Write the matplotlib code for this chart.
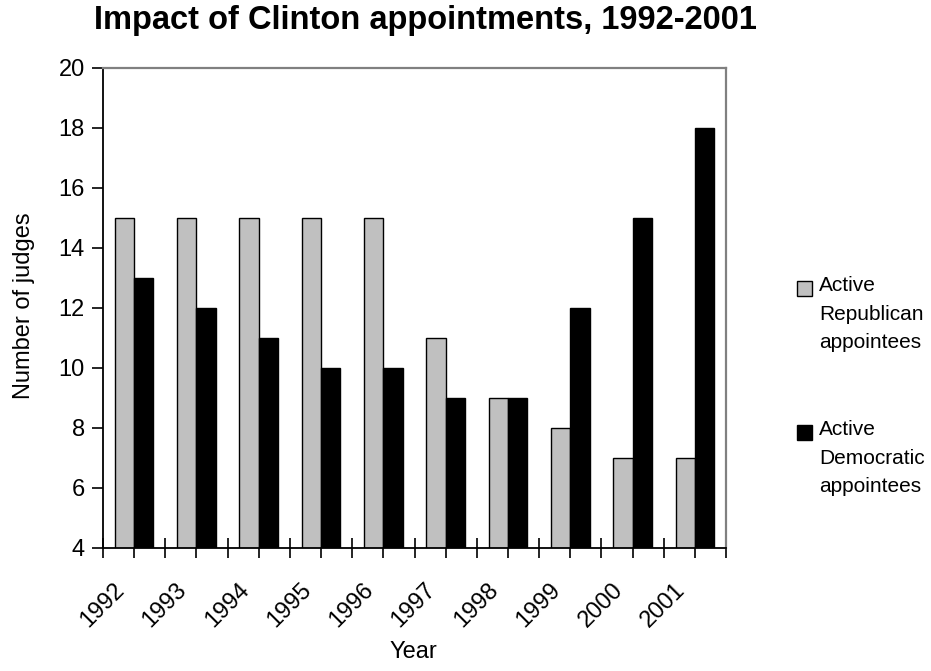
import matplotlib
matplotlib.use('Agg')
import numpy as np
from matplotlib import pyplot as plt
from matplotlib.patches import Rectangle
from matplotlib.transforms import ScaledTranslation

plt.rcParams['font.family'] = ['Liberation Sans', 'DejaVu Sans']

years = ['1992', '1993', '1994', '1995', '1996', '1997', '1998', '1999', '2000', '2001']
republican = [15, 15, 15, 15, 15, 11, 9, 8, 7, 7]
democratic = [13, 12, 11, 10, 10, 9, 9, 12, 15, 18]
legend_labels = ['Active\nRepublican\nappointees', 'Active\nDemocratic\nappointees']

fig = plt.figure(figsize=(9.31, 6.71), dpi=100)
ax = fig.add_axes([103 / 931, 1 - 548 / 671, 623 / 931, 480 / 671])

x = np.arange(len(years))
w = 0.31
ax.bar(x - w / 2, republican, w, color='#c0c0c0', edgecolor='black', linewidth=1.0)
ax.bar(x + w / 2, democratic, w, color='black', edgecolor='black', linewidth=1.0)

ax.set_xlim(-0.5, len(years) - 0.5)
ax.set_ylim(4, 20)
ax.set_yticks(range(4, 21, 2))
ax.tick_params(axis='y', direction='out', length=8, width=1.2, labelsize=17, pad=5)

# boundaries get crossing ticks, centers get short outward ticks
ax.set_xticks(np.arange(-0.5, len(years)), [''] * (len(years) + 1))
ax.set_xticks(x, minor=True)
ax.tick_params(axis='x', which='major', direction='inout', length=14, width=1.2)
ax.tick_params(axis='x', which='minor', direction='out', length=7, width=1.2)

for side in ['left', 'bottom']:
    ax.spines[side].set_color('black')
    ax.spines[side].set_linewidth(1.3)
for side in ['top', 'right']:
    ax.spines[side].set_color('#808080')
    ax.spines[side].set_linewidth(1.6)

# rotated year labels, hanging just left of the category center
shift = ScaledTranslation(-13 / 100, -39 / 100, fig.dpi_scale_trans)
for xi, yr in zip(x, years):
    ax.text(xi, 0, yr, transform=ax.get_xaxis_transform() + shift,
            rotation=45, ha='right', va='center', rotation_mode='anchor', fontsize=17)

fig.text(24 / 931, 1 - 306 / 671, 'Number of judges', rotation=90,
         ha='center', va='center', fontsize=17)
fig.text(413 / 931, 1 - 652 / 671, 'Year', ha='center', va='center', fontsize=17)
fig.text(425 / 931, 1 - 29 / 671, 'Impact of Clinton appointments, 1992-2001',
         ha='center', va='baseline', fontsize=23.5, fontweight='bold')

# legend drawn by hand so the swatch sits on the first line
for label, color, ytop in zip(legend_labels, ['#c0c0c0', 'black'], [281, 425]):
    fig.patches.append(Rectangle((797 / 931, 1 - (ytop + 15) / 671), 15 / 931, 15 / 671,
                                 transform=fig.transFigure, facecolor=color,
                                 edgecolor='black', linewidth=1.0))
    fig.text(819 / 931, 1 - (ytop - 5) / 671, label, ha='left', va='top',
             fontsize=15, linespacing=1.65)

fig.savefig('out.png', dpi=100)
